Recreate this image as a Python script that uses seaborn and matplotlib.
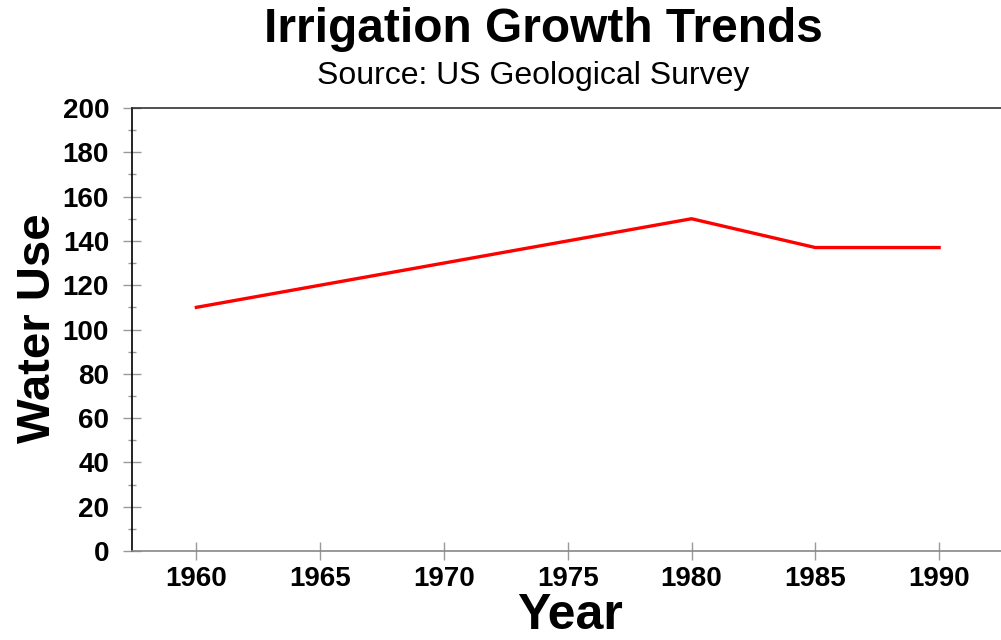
import pandas as pd
import matplotlib.pyplot as plt
import seaborn as sns
from matplotlib.ticker import MultipleLocator

years = [1960, 1965, 1970, 1975, 1980, 1985, 1990]
water_use = [110, 120, 130, 140, 150, 137, 137]

data = pd.DataFrame({"Year": years, "Water Use": water_use})

sns.set_style("white")
plt.rcParams["font.family"] = ["Liberation Sans", "DejaVu Sans"]
plt.rcParams["text.color"] = "black"
plt.rcParams["xtick.labelcolor"] = "black"
plt.rcParams["ytick.labelcolor"] = "black"

fig = plt.figure(figsize=(10.01, 6.4), dpi=100)
ax = fig.add_axes([132 / 1001, 1 - 551 / 640, 1 - 132 / 1001, (551 - 108) / 640])

sns.lineplot(data=data, x="Year", y="Water Use", color="#ff0000", linewidth=2.4,
             solid_capstyle="projecting", ax=ax)

ax.set_xlim(1957.4, 1992.5)
ax.set_ylim(0, 200)
ax.xaxis.set_major_locator(MultipleLocator(5))
ax.yaxis.set_major_locator(MultipleLocator(20))
ax.yaxis.set_minor_locator(MultipleLocator(10))

ax.tick_params(axis="both", which="major", direction="inout", length=13, width=1,
               color="#999999", labelsize=20, labelcolor="black")
ax.tick_params(axis="y", which="minor", direction="inout", length=6, width=1,
               color="#999999", left=True)
ax.tick_params(axis="x", which="major", bottom=True, pad=4)
ax.tick_params(axis="y", which="major", left=True, pad=10)
for lab in ax.get_xticklabels() + ax.get_yticklabels():
    lab.set_fontweight("bold")

ax.spines["right"].set_visible(False)
ax.spines["left"].set_color("#000000")
ax.spines["left"].set_linewidth(1.2)
ax.spines["bottom"].set_color("#888888")
ax.spines["bottom"].set_linewidth(1.2)
ax.spines["top"].set_color("#333333")
ax.spines["top"].set_linewidth(1.2)

ax.set_xlabel("")
ax.set_ylabel("")
fig.text(570 / 1001, 1 - 616 / 640, "Year", ha="center", va="center",
         fontsize=36, fontweight="bold")
fig.text(38 / 1001, 1 - 328 / 640, "Water Use", ha="center", va="center",
         rotation=90, fontsize=34, fontweight="bold")

fig.text(543 / 1001, 1 - 29 / 640, "Irrigation Growth Trends", ha="center", va="center",
         fontsize=34.5, fontweight="bold")
fig.text(533 / 1001, 1 - 76 / 640, "Source: US Geological Survey", ha="center", va="center",
         fontsize=23)

fig.savefig("out.png", dpi=100)
